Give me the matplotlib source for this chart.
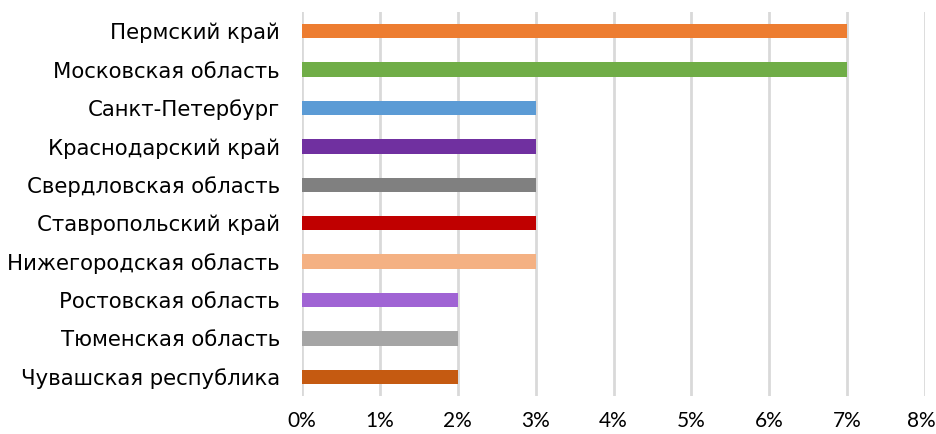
import matplotlib
matplotlib.use("Agg")
import matplotlib.pyplot as plt
import matplotlib.transforms as mtransforms
from matplotlib.ticker import FuncFormatter

regions = ["Пермский край", "Московская область", "Санкт-Петербург",
           "Краснодарский край", "Свердловская область", "Ставропольский край",
           "Нижегородская область", "Ростовская область", "Тюменская область",
           "Чувашская республика"]
values = [7, 7, 3, 3, 3, 3, 3, 2, 2, 2]
colors = ["#ED7D31", "#70AD47", "#5B9BD5", "#7030A0", "#808080",
          "#C00000", "#F4B183", "#A064D4", "#A5A5A5", "#C55A11"]
xticks = [0, 1, 2, 3, 4, 5, 6, 7, 8]

plt.rcParams['font.family'] = ['DejaVu Sans']

fig = plt.figure(figsize=(9.37, 4.34), dpi=100)
ax = fig.add_axes([302/937, 1-396/434, (925-302)/937, (396-12)/434])

ypos = list(range(len(regions)))
ax.barh(ypos, values, height=0.37, color=colors, zorder=3)
ax.set_ylim(len(regions)-0.5, -0.5)
ax.set_xlim(0, 8)
ax.set_xticks(xticks)
ax.xaxis.set_major_formatter(FuncFormatter(lambda v, p: f"{int(v)}%"))
ax.set_yticks(ypos)
ax.set_yticklabels(regions, fontsize=15.3)
ax.tick_params(axis='x', labelsize=15, length=0, pad=11)
ax.tick_params(axis='y', length=0, pad=16)
xlabels = ax.get_xticklabels()
for lbl in xlabels:
    lbl.set_family(['Lato', 'DejaVu Sans'])
shift = mtransforms.ScaledTranslation(-4/100, 0, fig.dpi_scale_trans)
xlabels[-1].set_transform(xlabels[-1].get_transform() + shift)
ax.grid(axis='x', color='#D9D9D9', linewidth=2, zorder=0)
for s in ax.spines.values():
    s.set_visible(False)

fig.savefig("out.png", dpi=100)
